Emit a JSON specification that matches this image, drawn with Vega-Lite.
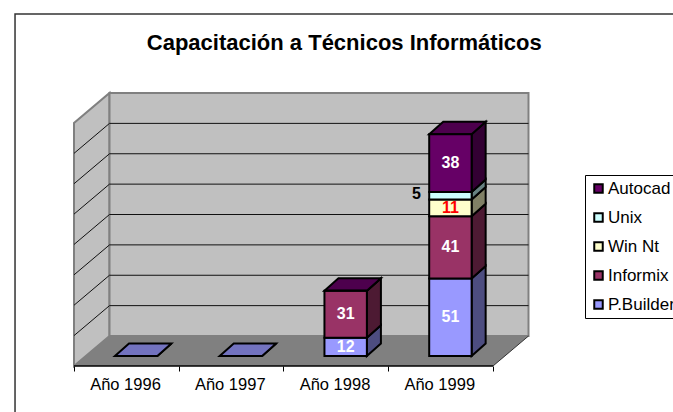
{
"$schema":"https://vega.github.io/schema/vega-lite/v6.json",
"width":454.5,"height":273,
"autosize":{"type":"none"},
"padding":{"left":74,"top":93,"right":144.5,"bottom":46},
"background":"white",
"config":{"view":{"stroke":null},"axisX":{"domain":false,"grid":false,"title":null,"tickSize":5,"tickColor":"black","tickWidth":1,"labelFont":"Liberation Sans","labelFontSize":16.5,"labelColor":"black","labelPadding":5}},
"title":{"text":"Capacitación a Técnicos Informáticos","font":"Liberation Sans","fontSize":22,"fontWeight":"bold","color":"black","anchor":"middle","frame":"group","dx":43,"offset":-42},
"data":{"values":[
{"year":"Año 1996","series":"P.Builder","value":0},
{"year":"Año 1997","series":"P.Builder","value":0},
{"year":"Año 1998","series":"P.Builder","value":12},
{"year":"Año 1998","series":"Informix","value":31},
{"year":"Año 1998","series":"Autocad","value":0},
{"year":"Año 1999","series":"P.Builder","value":51},
{"year":"Año 1999","series":"Informix","value":41},
{"year":"Año 1999","series":"Win Nt","value":11},
{"year":"Año 1999","series":"Unix","value":5},
{"year":"Año 1999","series":"Autocad","value":38}
]},
"transform":[
{"calculate":"indexof(['Año 1996','Año 1997','Año 1998','Año 1999'],datum.year)","as":"i"},
{"calculate":"indexof(['P.Builder','Informix','Win Nt','Unix','Autocad'],datum.series)","as":"o"},
{"stack":"value","groupby":["year"],"sort":[{"field":"o","order":"ascending"}],"as":["s0","s1"]},
{"calculate":"datum.i+0.391","as":"xl"},
{"calculate":"datum.i+0.796","as":"xr"},
{"calculate":"datum.s0+6.58","as":"y0"},
{"calculate":"datum.s1+6.58","as":"y1"},
{"calculate":"(datum.xl+datum.xr)/2","as":"xc"},
{"calculate":"(datum.y0+datum.y1)/2","as":"yc"}
],
"layer":[
{"data":{"values":[{"x":0}]},
 "mark":{"type":"rect","fill":null,"stroke":"#333333","strokeWidth":1.5,"clip":false},
 "encoding":{"x":{"datum":-0.563,"type":"quantitative","scale":{"domain":[0,4.339],"nice":false,"zero":false},"axis":{"values":[0,1,2,3,4],"title":null,"labelOffset":51,"labelBound":false,"labelFlush":false,"labelOverlap":false,"labelExpr":"['Año 1996','Año 1997','Año 1998','Año 1999',''][datum.value]"}},
  "x2":{"datum":7},
  "y":{"datum":231.7,"type":"quantitative","scale":{"domain":[0,179.74],"nice":false,"zero":false},"axis":null},
  "y2":{"datum":-60}}},
{"data":{"values":[{"depth":0},{"depth":1}]},"transform":[
  {"calculate":"datum.depth*0.339","as":"x"},{"calculate":"datum.depth*19.74","as":"yb"},{"calculate":"datum.yb+160","as":"yt"}],
 "mark":{"type":"area","fill":"#c0c0c0","stroke":"#808080","strokeWidth":2},
 "encoding":{"x":{"field":"x","type":"quantitative"},"y":{"field":"yb","type":"quantitative","axis":null},"y2":{"field":"yt"}}},
{"data":{"values":[{"depth":1}]},
 "mark":{"type":"rect","fill":"#c0c0c0","stroke":"#808080","strokeWidth":2},
 "encoding":{"x":{"datum":0.339,"type":"quantitative"},"x2":{"datum":4.339},"y":{"datum":19.74,"type":"quantitative","axis":null},"y2":{"datum":179.74}}},
{"data":{"values":[{"depth":0},{"depth":1}]},"transform":[
  {"calculate":"datum.depth*0.339","as":"x"},{"calculate":"4+datum.depth*0.339","as":"xe"},{"calculate":"datum.depth*19.74","as":"yb"}],
 "mark":{"type":"area","orient":"horizontal","fill":"#808080"},
 "encoding":{"y":{"field":"yb","type":"quantitative","axis":null},"x":{"field":"x","type":"quantitative"},"x2":{"field":"xe"}}},
{"data":{"values":[{"grid":20},{"grid":40},{"grid":60},{"grid":80},{"grid":100},{"grid":120},{"grid":140}]},"transform":[
  {"calculate":"datum.grid+19.74","as":"gb"}],
 "mark":{"type":"rule","color":"#111111","strokeWidth":1},
 "encoding":{"x":{"datum":0.339,"type":"quantitative"},"x2":{"datum":4.339},"y":{"field":"gb","type":"quantitative","axis":null}}},
{"data":{"values":[{"grid":20},{"grid":40},{"grid":60},{"grid":80},{"grid":100},{"grid":120},{"grid":140}]},"transform":[
  {"calculate":"datum.grid+19.74","as":"gb"}],
 "mark":{"type":"rule","color":"#111111","strokeWidth":1},
 "encoding":{"x":{"datum":0,"type":"quantitative"},"x2":{"datum":0.339},"y":{"field":"grid","type":"quantitative","axis":null},"y2":{"field":"gb"}}},
{"data":{"values":[{"depth":0}]},
 "mark":{"type":"rule","color":"#333333","strokeWidth":1},
 "encoding":{"x":{"datum":4,"type":"quantitative"},"x2":{"datum":4.339},"y":{"datum":0,"type":"quantitative","axis":null},"y2":{"datum":19.74}}},
{"data":{"values":[{"depth":0}]},
 "mark":{"type":"rule","color":"black","strokeWidth":1.5},
 "encoding":{"x":{"datum":0,"type":"quantitative"},"x2":{"datum":4},"y":{"datum":0,"type":"quantitative","axis":null}}},
{"transform":[{"calculate":"[0,1]","as":"t"},{"flatten":["t"]},
  {"calculate":"datum.xr+datum.t*0.134","as":"sx"},{"calculate":"datum.y0+datum.t*8.2","as":"sb"},{"calculate":"datum.y1+datum.t*8.2","as":"st"},{"calculate":"datum.year+datum.series","as":"key"}],
 "mark":{"type":"area","stroke":"black","strokeWidth":2,"strokeJoin":"miter"},
 "encoding":{"x":{"field":"sx","type":"quantitative"},"y":{"field":"sb","type":"quantitative","axis":null},"y2":{"field":"st"},"detail":{"field":"key"},
  "color":{"field":"series","type":"nominal","legend":null,"scale":{"domain":["Autocad","Unix","Win Nt","Informix","P.Builder"],"range":["#330033","#668080","#808066","#4d1a33","#4d4d80"]}}}},
{"transform":[{"joinaggregate":[{"op":"max","field":"o","as":"top"}],"groupby":["year"]},{"filter":"datum.o==datum.top"},
  {"calculate":"[0,1]","as":"t"},{"flatten":["t"]},
  {"calculate":"datum.y1+datum.t*8.2","as":"ty"},{"calculate":"datum.xl+datum.t*0.134","as":"tl"},{"calculate":"datum.xr+datum.t*0.134","as":"tr"},{"calculate":"datum.year+datum.series","as":"key"}],
 "mark":{"type":"area","orient":"horizontal","stroke":"black","strokeWidth":2,"strokeJoin":"miter"},
 "encoding":{"y":{"field":"ty","type":"quantitative","axis":null},"x":{"field":"tl","type":"quantitative"},"x2":{"field":"tr"},"detail":{"field":"key"},
  "color":{"field":"series","type":"nominal","legend":null,"scale":{"domain":["Autocad","Unix","Win Nt","Informix","P.Builder"],"range":["#4d004d","#99bfbf","#bfbf99","#732640","#7373bf"]}}}},
{"transform":[{"filter":"datum.value>0 || datum.series=='Autocad'"}],
 "mark":{"type":"rect","stroke":"black","strokeWidth":2},
 "encoding":{"x":{"field":"xl","type":"quantitative"},"x2":{"field":"xr"},"y":{"field":"y0","type":"quantitative","axis":null},"y2":{"field":"y1"},
  "color":{"field":"series","type":"nominal","sort":null,"scale":{"domain":["Autocad","Unix","Win Nt","Informix","P.Builder"],"range":["#660066","#ccffff","#ffffcc","#993366","#9999ff"]},
   "legend":{"orient":"none","legendX":511,"legendY":82,"title":null,"symbolType":"square","symbolSize":72,"symbolStrokeColor":"black","symbolStrokeWidth":2,"symbolOpacity":1,"labelFont":"Liberation Sans","labelFontSize":17,"labelColor":"black","rowPadding":11,"columnPadding":0,"labelOffset":1,"padding":5,"strokeColor":"black","fillColor":"white","labelLimit":200}}}},
{"transform":[{"filter":"datum.value>0 && datum.series!='Win Nt' && datum.series!='Unix'"}],
 "mark":{"type":"text","font":"Liberation Sans","fontWeight":"bold","fontSize":16,"color":"white"},
 "encoding":{"x":{"field":"xc","type":"quantitative"},"y":{"field":"yc","type":"quantitative","axis":null},"text":{"field":"value"}}},
{"transform":[{"filter":"datum.series=='Win Nt'"}],
 "mark":{"type":"text","font":"Liberation Sans","fontWeight":"bold","fontSize":16,"color":"#ff0000"},
 "encoding":{"x":{"field":"xc","type":"quantitative"},"y":{"field":"yc","type":"quantitative","axis":null},"text":{"field":"value"}}},
{"transform":[{"filter":"datum.series=='Unix'"}],
 "mark":{"type":"text","font":"Liberation Sans","fontWeight":"bold","fontSize":16,"color":"black","dx":-34,"dy":-2},
 "encoding":{"x":{"field":"xc","type":"quantitative"},"y":{"field":"yc","type":"quantitative","axis":null},"text":{"field":"value"}}}
],
"resolve":{"scale":{"color":"independent"}}
}
